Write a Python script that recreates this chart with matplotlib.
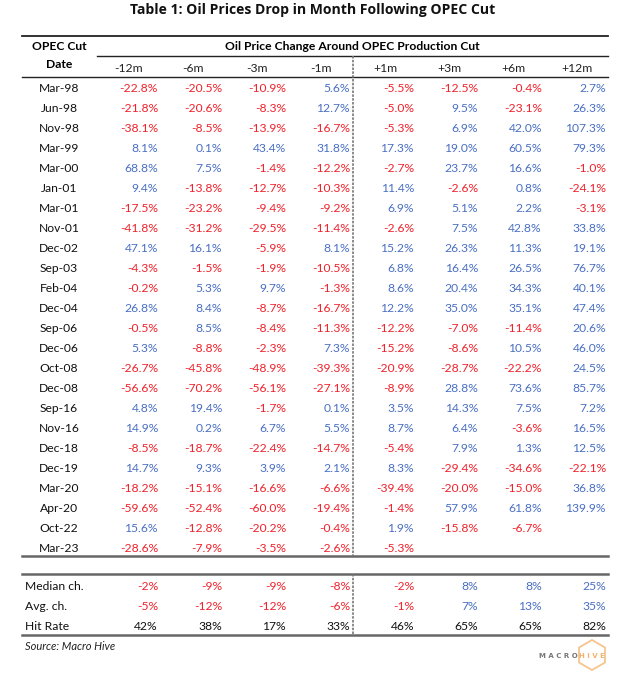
import matplotlib.pyplot as plt
from matplotlib.patches import RegularPolygon

dates = ["Mar-98", "Jun-98", "Nov-98", "Mar-99", "Mar-00", "Jan-01", "Mar-01", "Nov-01",
         "Dec-02", "Sep-03", "Feb-04", "Dec-04", "Sep-06", "Dec-06", "Oct-08", "Dec-08",
         "Sep-16", "Nov-16", "Dec-18", "Dec-19", "Mar-20", "Apr-20", "Oct-22", "Mar-23"]
horizons = ["-12m", "-6m", "-3m", "-1m", "+1m", "+3m", "+6m", "+12m"]

m12 = [-22.8, -21.8, -38.1, 8.1, 68.8, 9.4, -17.5, -41.8, 47.1, -4.3, -0.2, 26.8,
       -0.5, 5.3, -26.7, -56.6, 4.8, 14.9, -8.5, 14.7, -18.2, -59.6, 15.6, -28.6]
m6 = [-20.5, -20.6, -8.5, 0.1, 7.5, -13.8, -23.2, -31.2, 16.1, -1.5, 5.3, 8.4,
      8.5, -8.8, -45.8, -70.2, 19.4, 0.2, -18.7, 9.3, -15.1, -52.4, -12.8, -7.9]
m3 = [-10.9, -8.3, -13.9, 43.4, -1.4, -12.7, -9.4, -29.5, -5.9, -1.9, 9.7, -8.7,
      -8.4, -2.3, -48.9, -56.1, -1.7, 6.7, -22.4, 3.9, -16.6, -60.0, -20.2, -3.5]
m1 = [5.6, 12.7, -16.7, 31.8, -12.2, -10.3, -9.2, -11.4, 8.1, -10.5, -1.3, -16.7,
      -11.3, 7.3, -39.3, -27.1, 0.1, 5.5, -14.7, 2.1, -6.6, -19.4, -0.4, -2.6]
p1 = [-5.5, -5.0, -5.3, 17.3, -2.7, 11.4, 6.9, -2.6, 15.2, 6.8, 8.6, 12.2,
      -12.2, -15.2, -20.9, -8.9, 3.5, 8.7, -5.4, 8.3, -39.4, -1.4, 1.9, -5.3]
p3 = [-12.5, 9.5, 6.9, 19.0, 23.7, -2.6, 5.1, 7.5, 26.3, 16.4, 20.4, 35.0,
      -7.0, -8.6, -28.7, 28.8, 14.3, 6.4, 7.9, -29.4, -20.0, 57.9, -15.8, None]
p6 = [-0.4, -23.1, 42.0, 60.5, 16.6, 0.8, 2.2, 42.8, 11.3, 26.5, 34.3, 35.1,
      -11.4, 10.5, -22.2, 73.6, 7.5, -3.6, 1.3, -34.6, -15.0, 61.8, -6.7, None]
p12 = [2.7, 26.3, 107.3, 79.3, -1.0, -24.1, -3.1, 33.8, 19.1, 76.7, 40.1, 47.4,
       20.6, 46.0, 24.5, 85.7, 7.2, 16.5, 12.5, -22.1, 36.8, 139.9, None, None]
columns = [m12, m6, m3, m1, p1, p3, p6, p12]

median_ch = [-2, -9, -9, -8, -2, 8, 8, 25]
avg_ch = [-5, -12, -12, -6, -1, 7, 13, 35]
hit_rate = [42, 38, 17, 33, 46, 65, 65, 82]

RED = "#f0222c"
BLUE = "#4a70c2"
FONT = "Lato"
FS = 8.7

def col(v):
    return RED if v < 0 else BLUE

fig = plt.figure(figsize=(6.25, 6.8), dpi=100)
ax = fig.add_axes([0, 0, 1, 1])
ax.set_xlim(0, 625)
ax.set_ylim(680, 0)
ax.axis("off")

ax.text(313, 10, "Table 1: Oil Prices Drop in Month Following OPEC Cut", ha="center", va="center",
        fontsize=10.1, fontweight="bold", family="Open Sans", color="#111")

left, right = 22, 608
cell_w = 64
x0 = 97
rights = [x0 + cell_w * (i + 1) - 3 for i in range(8)]
centers = [x0 + cell_w * i + cell_w / 2 for i in range(8)]

# header
ax.plot([left, right], [36, 36], color="#222", lw=1.3)
ax.plot([x0, right], [56, 56], color="#222", lw=1.0)
ax.plot([left, right], [77, 77], color="#222", lw=1.0)
ax.text(59, 47, "OPEC Cut", ha="center", va="center", fontsize=FS, fontweight="bold", family=FONT)
ax.text(59, 64, "Date", ha="center", va="center", fontsize=FS, fontweight="bold", family=FONT)
ax.text((x0 + right) / 2, 46, "Oil Price Change Around OPEC Production Cut", ha="center", va="center",
        fontsize=FS, fontweight="bold", family=FONT)
for c, h in zip(centers, horizons):
    ax.text(c, 69, h, ha="center", va="center", fontsize=FS, family=FONT, color="#222")

# body
row0, dy = 88, 20
for i, d in enumerate(dates):
    y = row0 + dy * i
    ax.text(59, y, d, ha="center", va="center", fontsize=FS, family=FONT, color="#111")
    for j, vals in enumerate(columns):
        v = vals[i]
        if v is None:
            continue
        ax.text(rights[j], y, f"{v:.1f}%", ha="right", va="center", fontsize=FS, family=FONT, color=col(v))

y_end = row0 + dy * (len(dates) - 1) + 8
ax.plot([left, right], [y_end, y_end], color="#666", lw=1.8)

# summary
ys = 574
ax.plot([left, right], [ys, ys], color="#666", lw=1.8)
summary = [("Median ch.", median_ch, True), ("Avg. ch.", avg_ch, True), ("Hit Rate", hit_rate, False)]
for k, (lab, vals, colored) in enumerate(summary):
    y = 587 + 20 * k
    ax.text(25, y, lab, ha="left", va="center", fontsize=FS, family=FONT, color="#111")
    for j, v in enumerate(vals):
        ax.text(rights[j], y, f"{v}%", ha="right", va="center", fontsize=FS, family=FONT,
                color=col(v) if colored else "#111")
ax.plot([left, right], [635, 635], color="#666", lw=1.8)

# divider between before/after
xv = x0 + cell_w * 4 - 0.5
ax.plot([xv, xv], [56, y_end], color="#777", lw=1.2, ls=(0, (1.5, 0.8)))
ax.plot([xv, xv], [ys, 635], color="#777", lw=1.2, ls=(0, (1.5, 0.8)))

ax.text(25, 647, "Source: Macro Hive", ha="left", va="center", fontsize=8, style="italic",
        family=FONT, color="#222")

# logo
hexa = RegularPolygon((592, 655), numVertices=6, radius=15, orientation=0, fill=False,
                      edgecolor="#f6c58f", lw=1.3)
ax.add_patch(hexa)
ax.text(578, 656, "M A C R O", ha="right", va="center", fontsize=5, fontweight="bold",
        family="DejaVu Sans", color="#777")
ax.text(579, 656, "H I V E", ha="left", va="center", fontsize=5, fontweight="bold",
        family="DejaVu Sans", color="#f3b36f")

fig.savefig("out.png", dpi=100)
